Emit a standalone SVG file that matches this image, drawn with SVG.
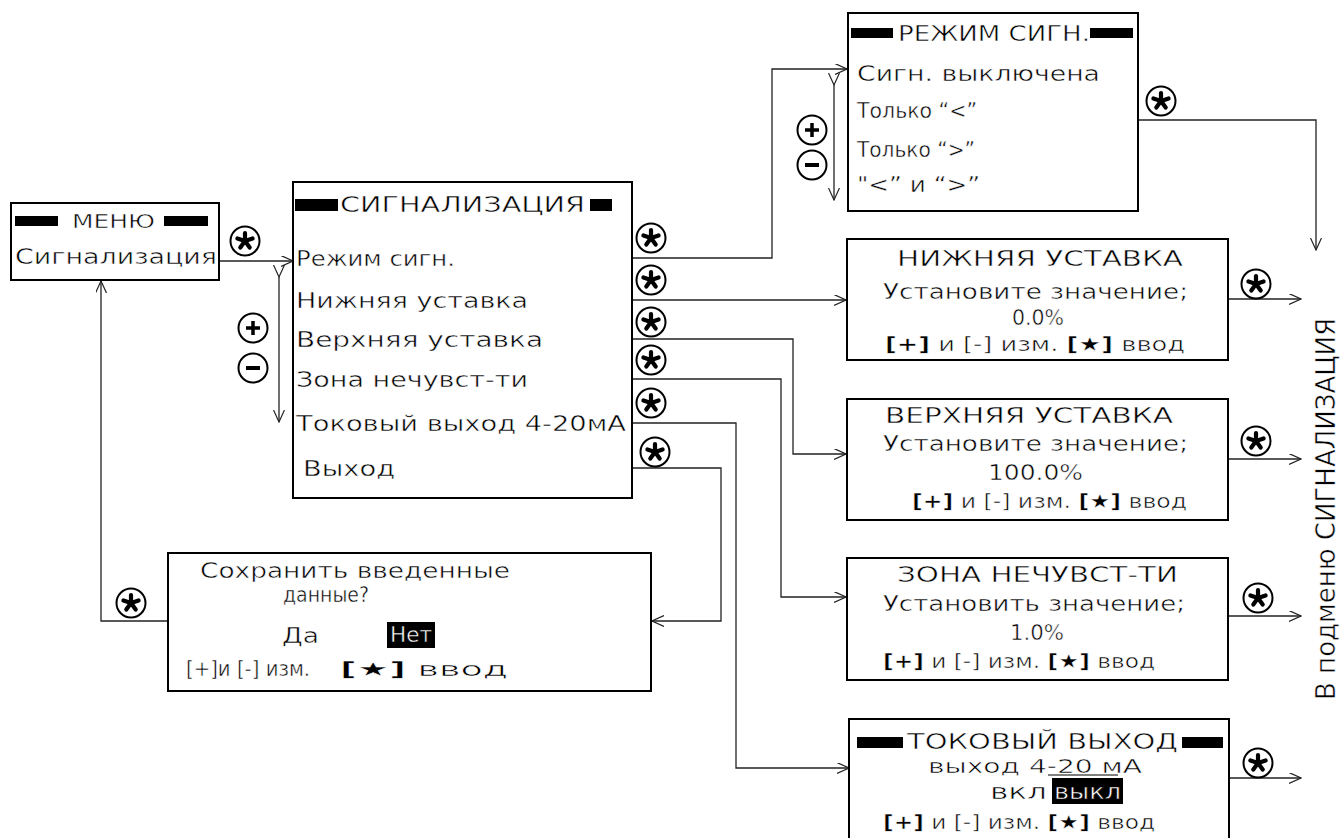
<svg xmlns="http://www.w3.org/2000/svg" xmlns:xlink="http://www.w3.org/1999/xlink" width="1343" height="838" viewBox="0 0 1343 838">
<style>
text{font-family:"DejaVu Sans","Liberation Sans",sans-serif;fill:#000;stroke:#fff;stroke-width:0.5}
.box{fill:#fff;stroke:#000;stroke-width:2}
.bar{fill:#000}
.c{fill:none;stroke:#222;stroke-width:1.3}
.t19{font-size:19px}
.t20{font-size:20px}
.t21{font-size:21px}
.t22{font-size:22px}
.b{font-weight:bold}
text.w{fill:#fff;stroke:#000}
</style>
<defs>
<marker id="ah" markerWidth="13" markerHeight="12" refX="12" refY="5.5" orient="auto" markerUnits="userSpaceOnUse">
<path d="M0,0 L12,5.5 L0,11" fill="none" stroke="#222" stroke-width="1.2"/>
</marker>
<g id="star">
<circle r="14.5" fill="#fff" stroke="#000" stroke-width="2"/>
<g stroke="#000" stroke-width="4.2" stroke-linecap="round">
<line x1="0" y1="0" x2="0" y2="-8"/>
<line x1="0" y1="0" x2="7.6" y2="-2.5"/>
<line x1="0" y1="0" x2="4.7" y2="6.5"/>
<line x1="0" y1="0" x2="-4.7" y2="6.5"/>
<line x1="0" y1="0" x2="-7.6" y2="-2.5"/>
</g>
</g>
<g id="plus">
<circle r="14.5" fill="#fff" stroke="#000" stroke-width="2"/>
<path d="M-7,0 H7 M0,-7 V7" stroke="#000" stroke-width="3.5"/>
</g>
<g id="minus">
<circle r="14.5" fill="#fff" stroke="#000" stroke-width="2"/>
<path d="M-7,0 H7" stroke="#000" stroke-width="4"/>
</g>
</defs>
<rect width="1343" height="838" fill="#fff"/>

<g id="connectors">
<path class="c" d="M219,261 H293" marker-end="url(#ah)"/>
<path class="c" d="M477,258 H772 V69 H847" marker-end="url(#ah)"/>
<path class="c" d="M528,300 H846" marker-end="url(#ah)"/>
<path class="c" d="M543,339 H793 V454 H846" marker-end="url(#ah)"/>
<path class="c" d="M545,379 H781 V597 H846" marker-end="url(#ah)"/>
<path class="c" d="M627,423 H736 V768 H849" marker-end="url(#ah)"/>
<path class="c" d="M452,468 H721 V621 H652" marker-end="url(#ah)"/>
<path class="c" d="M168,621 H101 V281" marker-end="url(#ah)"/>
<path class="c" d="M279,277 V422" marker-start="url(#ah)" marker-end="url(#ah)"/>
<path class="c" d="M834,85 V200" marker-start="url(#ah)" marker-end="url(#ah)"/>
<path class="c" d="M1138,120 H1316 V250" marker-end="url(#ah)"/>
<path class="c" d="M1228,299 H1301" marker-end="url(#ah)"/>
<path class="c" d="M1228,459 H1301" marker-end="url(#ah)"/>
<path class="c" d="M1228,616 H1301" marker-end="url(#ah)"/>
<path class="c" d="M1230,778 H1301" marker-end="url(#ah)"/>
</g>

<g id="menu">
<rect class="box" x="11" y="203" width="208" height="77"/>
<rect class="bar" x="15" y="216" width="43" height="10"/>
<rect class="bar" x="164" y="216" width="44" height="10"/>
<text class="t20" x="72" y="228" textLength="83" lengthAdjust="spacingAndGlyphs">МЕНЮ</text>
<text class="t22" x="15" y="264" textLength="202" lengthAdjust="spacingAndGlyphs">Сигнализация</text>
</g>
<use xlink:href="#star" x="245" y="241"/>

<g id="signalizacia">
<rect class="box" x="293" y="182" width="339" height="316"/>
<rect class="bar" x="295" y="199" width="43" height="12"/>
<rect class="bar" x="590" y="199" width="22" height="12"/>
<text class="t22" x="340" y="212" textLength="245" lengthAdjust="spacingAndGlyphs">СИГНАЛИЗАЦИЯ</text>
<text class="t22" x="296" y="266" textLength="159" lengthAdjust="spacingAndGlyphs">Режим сигн.</text>
<text class="t22" x="296" y="308" textLength="232" lengthAdjust="spacingAndGlyphs">Нижняя уставка</text>
<text class="t22" x="296" y="347" textLength="247" lengthAdjust="spacingAndGlyphs">Верхняя уставка</text>
<text class="t22" x="296" y="387" textLength="232" lengthAdjust="spacingAndGlyphs">Зона нечувст-ти</text>
<text class="t22" x="296" y="431" textLength="330" lengthAdjust="spacingAndGlyphs">Токовый выход 4-20мА</text>
<text class="t22" x="303" y="476" textLength="92" lengthAdjust="spacingAndGlyphs">Выход</text>
</g>
<use xlink:href="#plus" x="253" y="328"/>
<use xlink:href="#minus" x="253" y="368"/>
<use xlink:href="#star" x="651" y="238"/>
<use xlink:href="#star" x="651" y="280"/>
<use xlink:href="#star" x="651" y="322"/>
<use xlink:href="#star" x="651" y="360"/>
<use xlink:href="#star" x="651" y="403"/>
<use xlink:href="#star" x="655" y="452"/>

<g id="rezhim">
<rect class="box" x="848" y="13" width="290" height="198"/>
<text class="t22" x="898" y="41" textLength="192" lengthAdjust="spacingAndGlyphs">РЕЖИМ СИГН.</text>
<rect class="bar" x="851" y="28" width="42" height="10"/>
<rect class="bar" x="1090" y="28" width="43" height="10"/>
<text class="t22" x="857" y="81" textLength="243" lengthAdjust="spacingAndGlyphs">Сигн. выключена</text>
<text class="t22" x="857" y="118" textLength="120" lengthAdjust="spacingAndGlyphs">Только “&lt;”</text>
<text class="t22" x="857" y="157" textLength="118" lengthAdjust="spacingAndGlyphs">Только “&gt;”</text>
<text class="t22" x="857" y="192" textLength="123" lengthAdjust="spacingAndGlyphs">"&lt;” и “&gt;”</text>
</g>
<use xlink:href="#plus" x="812" y="130"/>
<use xlink:href="#minus" x="812" y="165"/>
<use xlink:href="#star" x="1161" y="101"/>

<g id="nizhnyaya">
<rect class="box" x="847" y="239" width="381" height="121"/>
<text class="t22" x="897" y="266" textLength="286" lengthAdjust="spacingAndGlyphs">НИЖНЯЯ УСТАВКА</text>
<text class="t21" x="883" y="299" textLength="305" lengthAdjust="spacingAndGlyphs">Установите значение;</text>
<text class="t21" x="1012" y="325" textLength="52" lengthAdjust="spacingAndGlyphs">0.0%</text>
<text class="t20" x="885" y="351" textLength="300" lengthAdjust="spacingAndGlyphs"><tspan class="b">[+]</tspan> и [-] изм. <tspan class="b">[★]</tspan> ввод</text>
</g>
<use xlink:href="#star" x="1256" y="284"/>

<g id="verhnyaya">
<rect class="box" x="847" y="399" width="381" height="121"/>
<text class="t22" x="885" y="423" textLength="288" lengthAdjust="spacingAndGlyphs">ВЕРХНЯЯ УСТАВКА</text>
<text class="t21" x="883" y="451" textLength="305" lengthAdjust="spacingAndGlyphs">Установите значение;</text>
<text class="t21" x="988" y="480" textLength="95" lengthAdjust="spacingAndGlyphs">100.0%</text>
<text class="t20" x="912" y="508" textLength="275" lengthAdjust="spacingAndGlyphs"><tspan class="b">[+]</tspan> и [-] изм. <tspan class="b">[★]</tspan> ввод</text>
</g>
<use xlink:href="#star" x="1256" y="441"/>

<g id="zona">
<rect class="box" x="847" y="558" width="381" height="122"/>
<text class="t22" x="897" y="582" textLength="281" lengthAdjust="spacingAndGlyphs">ЗОНА НЕЧУВСТ-ТИ</text>
<text class="t21" x="883" y="611" textLength="302" lengthAdjust="spacingAndGlyphs">Установить значение;</text>
<text class="t21" x="1010" y="640" textLength="54" lengthAdjust="spacingAndGlyphs">1.0%</text>
<text class="t20" x="883" y="668" textLength="272" lengthAdjust="spacingAndGlyphs"><tspan class="b">[+]</tspan> и [-] изм. <tspan class="b">[★]</tspan> ввод</text>
</g>
<use xlink:href="#star" x="1258" y="598"/>

<g id="tokovyy">
<rect class="box" x="849" y="719" width="380" height="120"/>
<rect class="bar" x="857" y="737" width="46" height="11"/>
<rect class="bar" x="1182" y="737" width="41" height="11"/>
<text class="t21" x="907" y="749" textLength="271" lengthAdjust="spacingAndGlyphs">ТОКОВЫЙ ВЫХОД</text>
<text class="t19" x="928" y="773" textLength="214" lengthAdjust="spacingAndGlyphs">выход 4-20 мА</text>
<line x1="1048" y1="775" x2="1118" y2="775" stroke="#000" stroke-width="1"/>
<text class="t21" x="990" y="799" textLength="57" lengthAdjust="spacingAndGlyphs">вкл</text>
<rect class="bar" x="1052" y="778" width="71" height="26"/>
<text class="t21 w" x="1054" y="799" textLength="67" lengthAdjust="spacingAndGlyphs">выкл</text>
<text class="t20" x="883" y="829" textLength="272" lengthAdjust="spacingAndGlyphs"><tspan class="b">[+]</tspan> и [-] изм. <tspan class="b">[★]</tspan> ввод</text>
</g>
<use xlink:href="#star" x="1258" y="763"/>

<g id="sohranit">
<rect class="box" x="168" y="553" width="483" height="138"/>
<text class="t21" x="200" y="578" textLength="310" lengthAdjust="spacingAndGlyphs">Сохранить введенные</text>
<text class="t22" x="283" y="602" textLength="86" lengthAdjust="spacingAndGlyphs">данные?</text>
<text class="t22" x="282" y="643" textLength="37" lengthAdjust="spacingAndGlyphs">Да</text>
<rect class="bar" x="387" y="622" width="48" height="26"/>
<text class="t21 w" x="390" y="642" textLength="42" lengthAdjust="spacingAndGlyphs">Нет</text>
<text class="t21" x="186" y="676" textLength="124" lengthAdjust="spacingAndGlyphs">[+]и [-] изм.</text>
<text class="t20" x="340" y="676" textLength="168" lengthAdjust="spacingAndGlyphs"><tspan class="b">[★]</tspan> ввод</text>
</g>
<use xlink:href="#star" x="131" y="603"/>

<text id="submenu" style="font-size:26px" transform="translate(1335,700) rotate(-90)" textLength="382" lengthAdjust="spacingAndGlyphs">В подменю СИГНАЛИЗАЦИЯ</text>
</svg>
